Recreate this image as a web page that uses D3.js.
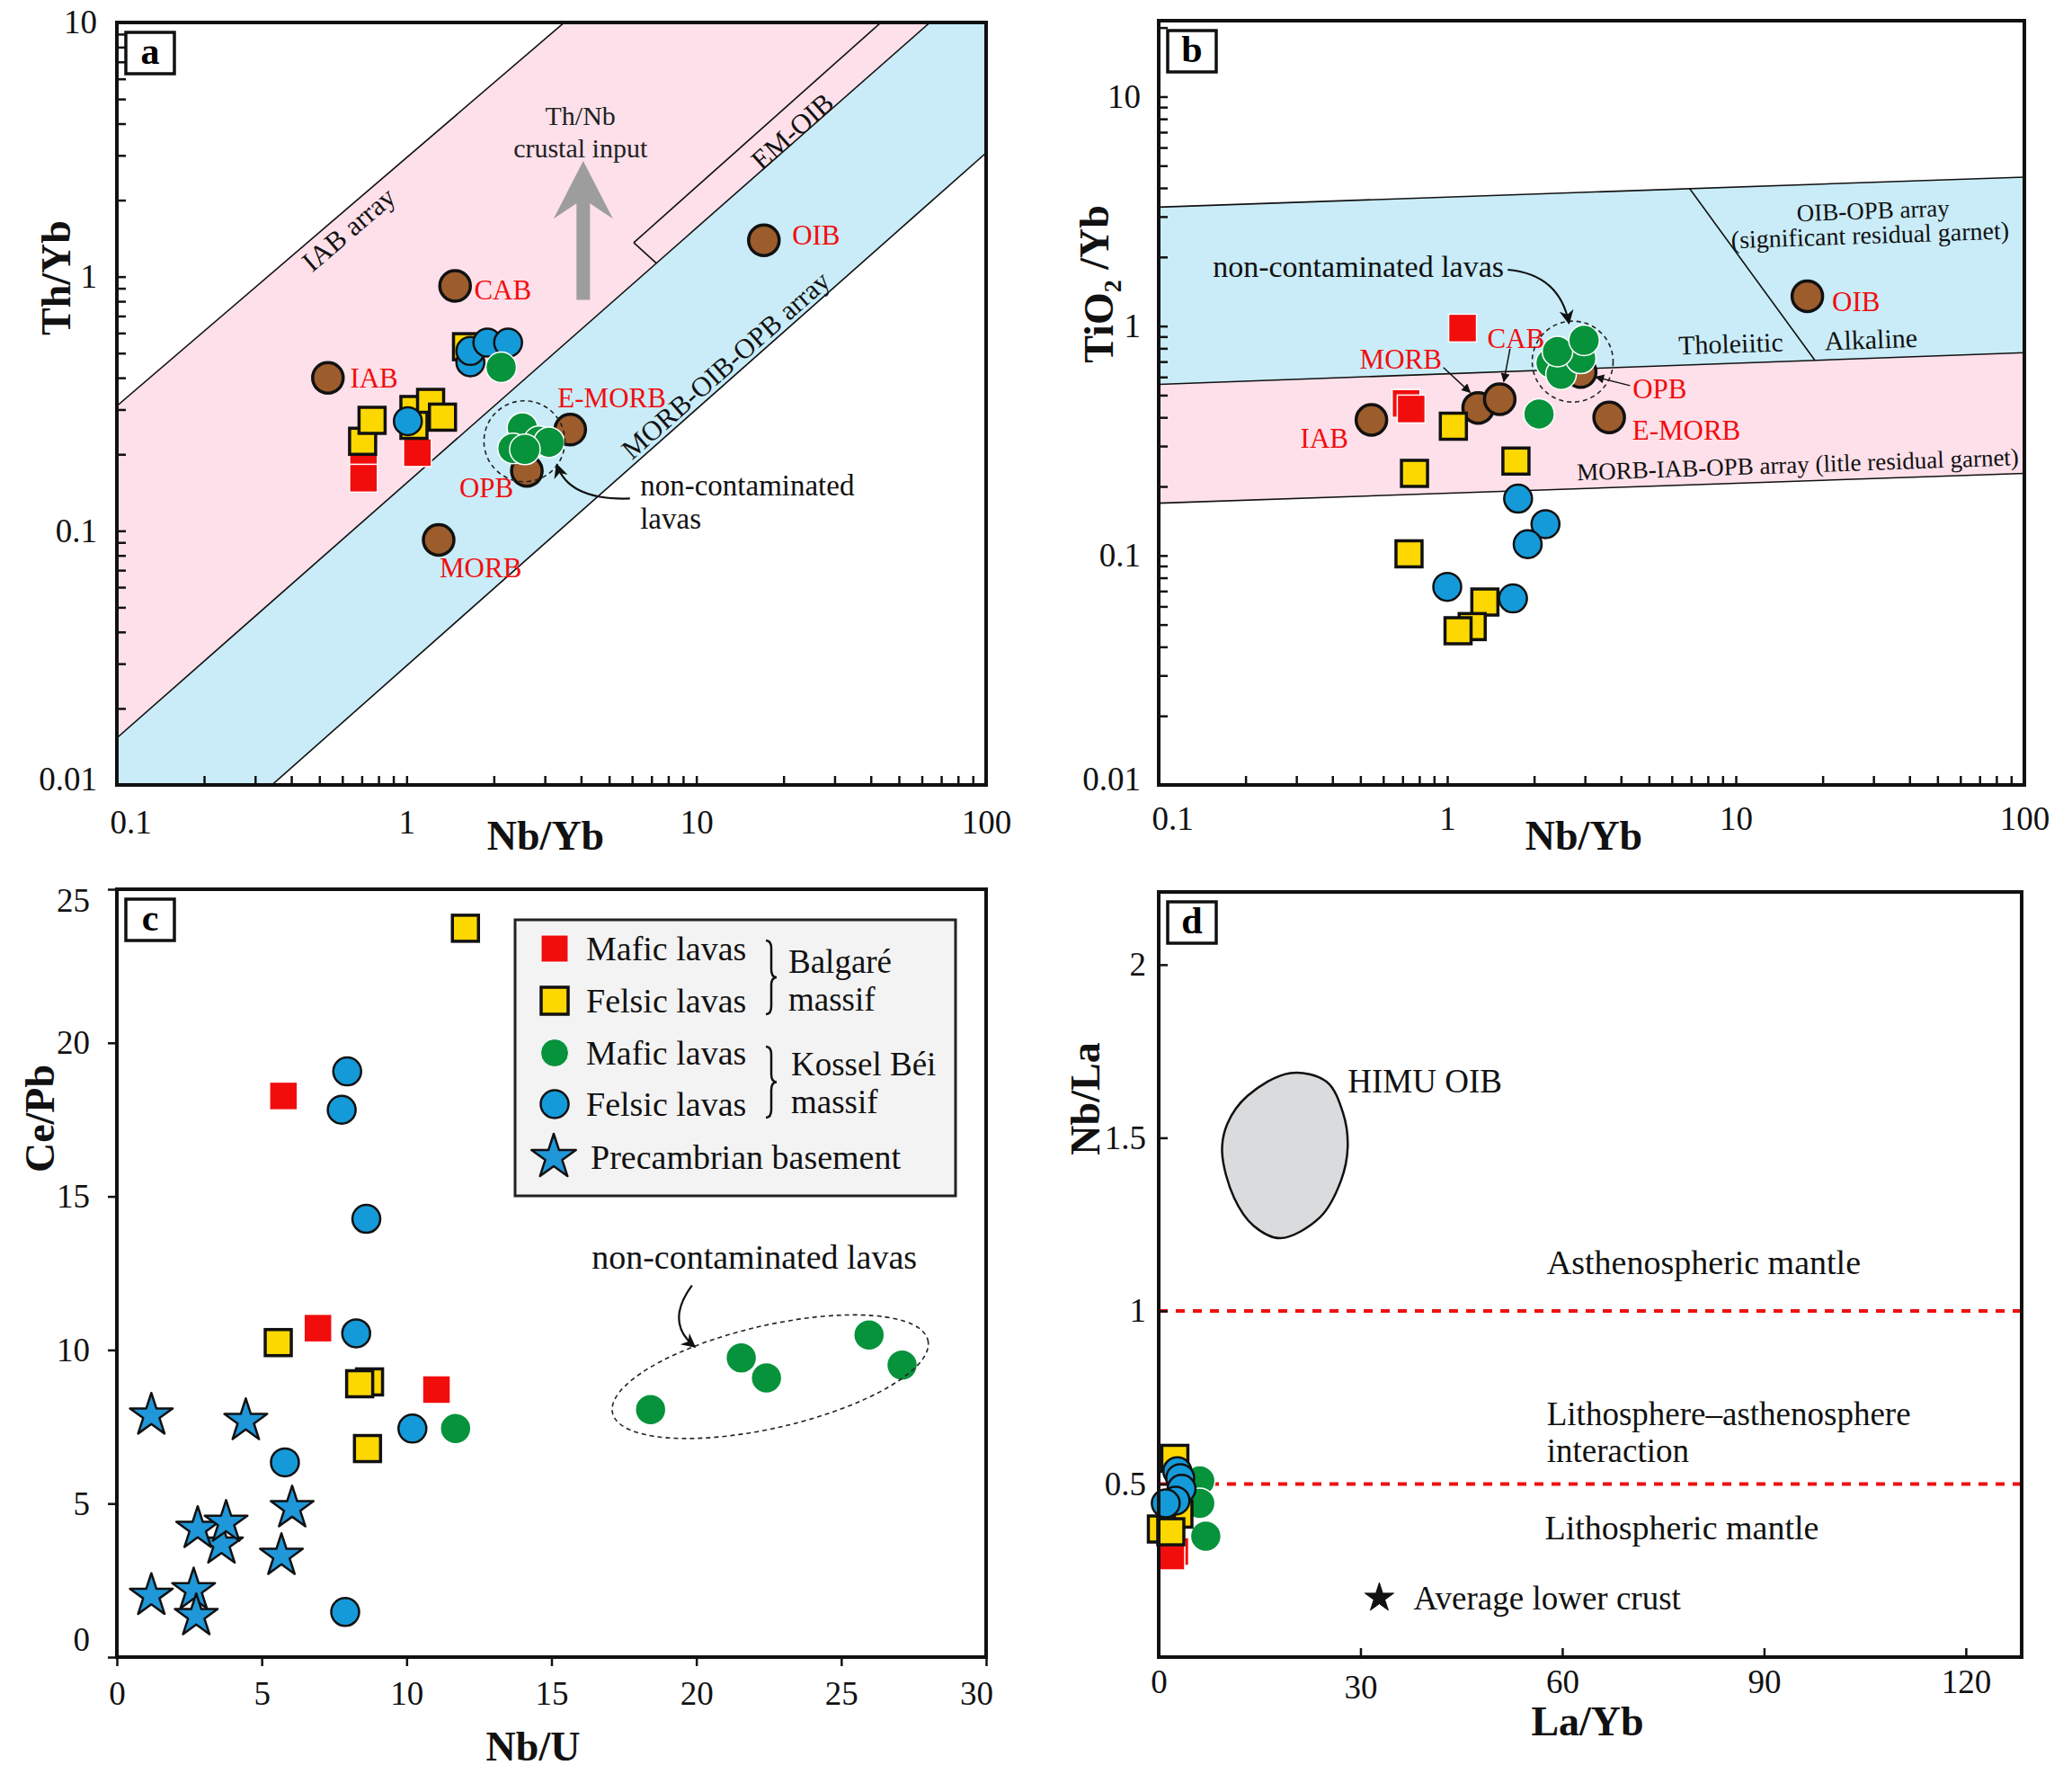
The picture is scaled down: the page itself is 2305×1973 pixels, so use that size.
<!DOCTYPE html>
<html>
<head>
<meta charset="utf-8">
<script src="https://cdn.jsdelivr.net/npm/d3@7"></script>
<style>
  body { margin: 0; background: #fff; }
</style>
</head>
<body>
<script>
// ---------------- data ----------------
// Panel a: Nb/Yb vs Th/Yb
const aMaficBalgare = [[0.71, 0.19], [0.71, 0.161], [1.09, 0.203]];
const aFelsicBalgare = [[0.705, 0.225], [0.76, 0.272], [1.06, 0.30], [1.21, 0.32], [1.33, 0.28], [1.06, 0.26], [1.61, 0.53]];
const aFelsicKossel = [[1.01, 0.27], [1.66, 0.46], [1.66, 0.51], [1.90, 0.55], [2.24, 0.55]];
const aMaficKossel = [[2.12, 0.44], [2.51, 0.254], [2.33, 0.211], [2.86, 0.225], [3.1, 0.223], [2.56, 0.209]];
const aReference = [["IAB", 0.535, 0.40], ["CAB", 1.47, 0.92], ["OIB", 17.1, 1.39], ["E-MORB", 3.67, 0.25], ["OPB", 2.6, 0.172], ["MORB", 1.29, 0.092]];
// array boundaries, two points each (Nb/Yb, Th/Yb)
const aIabUpper = [[0.1, 0.31], [3.5, 10]];
const aMorbUpper = [[0.1, 0.0153], [63, 9.85]];
const aMorbLower = [[0.343, 0.01], [100, 3.07]];
const aEmOib = [[6.08, 1.36], [42.5, 9.8]];
const aEmLink = [[6.08, 1.36], [7.27, 1.13]];

// Panel b: Nb/Yb vs TiO2/Yb
const bMaficBalgare = [[1.13, 0.98], [0.72, 0.46], [0.75, 0.435]];
const bFelsicBalgare = [[1.05, 0.366], [0.77, 0.228], [1.73, 0.258], [0.737, 0.1017], [1.35, 0.0627], [1.22, 0.049], [1.09, 0.047]];
const bFelsicKossel = [[1.76, 0.177], [2.19, 0.137], [1.90, 0.112], [1.0, 0.073], [1.69, 0.065]];
const bMaficKossel = [[2.08, 0.414], [2.29, 0.69], [2.48, 0.617], [2.90, 0.723], [2.41, 0.774], [2.98, 0.867]];
const bReference = [["IAB", 0.546, 0.39], ["MORB", 1.28, 0.44], ["CAB", 1.52, 0.48], ["OPB", 2.9, 0.63], ["E-MORB", 3.64, 0.40], ["OIB", 17.7, 1.35]];
const bOibTop = [[0.1, 3.30], [100, 4.46]];
const bMid = [[0.1, 0.557], [100, 0.766]];
const bMorbBottom = [[0.1, 0.169], [100, 0.228]];
const bDivider = [[6.92, 3.97], [18.8, 0.709]];

// Panel c: Nb/U vs Ce/Pb
const cMaficBalgare = [[5.75, 18.27], [6.94, 10.71], [11.03, 8.71]];
const cFelsicBalgare = [[12.03, 23.73], [5.57, 10.24], [8.72, 8.96], [8.38, 8.9], [8.65, 6.79]];
const cFelsicKossel = [[7.95, 19.07], [7.76, 17.82], [8.61, 14.27], [8.26, 10.54], [10.2, 7.44], [5.8, 6.34], [7.88, 1.47]];
const cMaficKossel = [[11.69, 7.44], [18.42, 8.06], [21.55, 9.74], [22.42, 9.09], [25.96, 10.49], [27.1, 9.51]];
const cBasement = [[1.19, 7.87], [4.45, 7.69], [6.05, 4.85], [3.61, 3.67], [2.79, 4.18], [3.77, 4.38], [5.68, 3.30], [1.19, 2.0], [2.65, 2.18], [2.74, 1.34]];

// Panel d: La/Yb vs Nb/La
const dMaficBalgare = [[2.4, 0.305], [1.8, 0.292]];
const dMaficKossel = [[6.1, 0.509], [6.1, 0.444], [7.0, 0.349]];
const dFelsicBalgare = [[2.4, 0.574], [3.0, 0.413], [0.4, 0.37], [1.8, 0.362]];
const dFelsicKossel = [[2.77, 0.537], [3.2, 0.517], [3.4, 0.486], [2.5, 0.452], [1.05, 0.444]];
const dLowerCrust = [[32.8, 0.171]];
const dHimuOutline = [[19.55, 1.687], [24.95, 1.662], [27.4, 1.572], [28.1, 1.474], [27.1, 1.376], [23.97, 1.27],
  [18.07, 1.21], [14.1, 1.246], [11.2, 1.327], [9.43, 1.458], [10.2, 1.54], [13.2, 1.621]];
const dBoundaries = [1, 0.5];

// tick labels
const cTicksX = [0, 5, 10, 15, 20, 25, 30];
const cTicksY = [0, 5, 10, 15, 20, 25];
const dTicksX = [0, 30, 60, 90, 120];
const dTicksY = [0.5, 1, 1.5, 2];

// ---------------- setup ----------------
const FONT = '"Liberation Serif","Times New Roman",serif';
const COL = {
  red: "#f20d0d", yellow: "#fdd800", blue: "#159ad9", green: "#07923c",
  brown: "#9c5c2c", pink: "#fde0ea", sky: "#c9ecf8", star: "#1f97d9"
};

const svg = d3.select("body").append("svg")
  .attr("width", 2305).attr("height", 1973)
  .style("font-family", FONT);

const defs = svg.append("defs");
defs.append("marker").attr("id", "headBig")
  .attr("viewBox", "0 0 10 10").attr("refX", 9).attr("refY", 5)
  .attr("markerUnits", "userSpaceOnUse").attr("markerWidth", 20).attr("markerHeight", 16)
  .attr("orient", "auto")
  .append("path").attr("d", "M0,0 L10,5 L0,10 L3,5 Z").attr("fill", "#111");
defs.append("marker").attr("id", "headSmall")
  .attr("viewBox", "0 0 10 10").attr("refX", 9).attr("refY", 5)
  .attr("markerUnits", "userSpaceOnUse").attr("markerWidth", 12).attr("markerHeight", 10)
  .attr("orient", "auto")
  .append("path").attr("d", "M0,0 L10,5 L0,10 Z").attr("fill", "#111");

let clipCount = 0;
function makePanel(frame, xLog, xDom, yLog, yDom) {
  const x = (xLog ? d3.scaleLog() : d3.scaleLinear()).domain(xDom).range([frame.left, frame.right]);
  const y = (yLog ? d3.scaleLog() : d3.scaleLinear()).domain(yDom).range([frame.bottom, frame.top]);
  const id = "clip" + (clipCount++);
  defs.append("clipPath").attr("id", id).append("rect")
    .attr("x", frame.left).attr("y", frame.top)
    .attr("width", frame.right - frame.left).attr("height", frame.bottom - frame.top);
  const g = svg.append("g");
  const back = g.append("g").attr("clip-path", `url(#${id})`);
  return { x, y, g, back, frame };
}

function logTicks(lo, hi) {
  const t = [];
  for (let e = Math.floor(Math.log10(lo)); e <= Math.ceil(Math.log10(hi)); e++) {
    for (let m = 1; m < 10; m++) {
      const v = +(m * Math.pow(10, e)).toPrecision(6);
      if (v >= lo * 0.999 && v <= hi * 1.001) t.push(v);
    }
  }
  return t;
}
const isDecade = (v) => Math.abs(Math.log10(v) - Math.round(Math.log10(v))) < 1e-6;

function styleAxis(sel, size) {
  sel.attr("font-size", size).attr("font-family", FONT);
  sel.select(".domain").remove();
  sel.selectAll(".tick line").attr("stroke", "#111").attr("stroke-width", 2.5);
  sel.selectAll(".tick text").attr("fill", "#111");
}

function drawFrame(p, letter) {
  const f = p.frame;
  p.g.append("rect")
    .attr("x", f.left).attr("y", f.top)
    .attr("width", f.right - f.left).attr("height", f.bottom - f.top)
    .attr("fill", "none").attr("stroke", "#111").attr("stroke-width", 4);
  p.g.append("rect")
    .attr("x", f.left + 10).attr("y", f.top + 11).attr("width", 54).attr("height", 46)
    .attr("fill", "#fff").attr("stroke", "#111").attr("stroke-width", 3.5);
  p.g.append("text")
    .attr("x", f.left + 37).attr("y", f.top + 46)
    .attr("text-anchor", "middle").attr("font-size", 42).attr("font-weight", "bold")
    .text(letter);
}

function axisTitle(g, x, y, rotate) {
  const t = g.append("text")
    .attr("transform", `translate(${x},${y})` + (rotate ? " rotate(-90)" : ""))
    .attr("text-anchor", "middle").attr("font-size", 46).attr("font-weight", "bold")
    .attr("fill", "#111");
  if (rotate) t.attr("dy", "0.35em");
  return t;
}

// marks
function squares(p, data, fill, stroke, sw, side) {
  p.g.append("g").selectAll("rect").data(data).join("rect")
    .attr("x", (d) => p.x(d[0]) - side / 2).attr("y", (d) => p.y(d[1]) - side / 2)
    .attr("width", side).attr("height", side)
    .attr("fill", fill).attr("stroke", stroke).attr("stroke-width", sw);
}
function circles(p, data, fill, stroke, sw, r) {
  p.g.append("g").selectAll("circle").data(data).join("circle")
    .attr("cx", (d) => p.x(d[0])).attr("cy", (d) => p.y(d[1])).attr("r", r)
    .attr("fill", fill).attr("stroke", stroke).attr("stroke-width", sw);
}
function stars(p, data, fill, stroke, sw, radius) {
  const sym = d3.symbol().type(d3.symbolStar).size(radius * radius / 0.8908130915292852);
  p.g.append("g").selectAll("path").data(data).join("path")
    .attr("transform", (d) => `translate(${p.x(d[0])},${p.y(d[1])})`)
    .attr("d", sym()).attr("fill", fill).attr("stroke", stroke).attr("stroke-width", sw)
    .attr("stroke-linejoin", "round");
}
const mafBal = (p, d) => squares(p, d, COL.red, "#fff", 1.5, 31);
const felBal = (p, d) => squares(p, d, COL.yellow, "#111", 3.5, 29);
const mafKos = (p, d) => circles(p, d, COL.green, "#fff", 1.5, 17);
const felKos = (p, d) => circles(p, d, COL.blue, "#111", 2.5, 15.5);
const refPts = (p, d) => circles(p, d.map((r) => [r[1], r[2]]), COL.brown, "#111", 3.5, 17);

function text(g, x, y, str, size, opts = {}) {
  const t = g.append("text")
    .attr("x", x).attr("y", y).attr("dy", "0.35em")
    .attr("font-size", size).attr("fill", opts.fill || "#111")
    .attr("text-anchor", opts.anchor || "start")
    .text(str);
  if (opts.rotate !== undefined) {
    t.attr("x", null).attr("y", null)
      .attr("transform", `translate(${x},${y}) rotate(${opts.rotate})`);
  }
  return t;
}

// straight line in log-log space, evaluated anywhere along it
function logLineAt(line, xv) {
  const [[xa, ya], [xb, yb]] = line;
  const s = (Math.log10(yb) - Math.log10(ya)) / (Math.log10(xb) - Math.log10(xa));
  return Math.pow(10, Math.log10(ya) + s * (Math.log10(xv) - Math.log10(xa)));
}
function angleOf(p, line) {
  const [a, b] = line;
  return Math.atan2(p.y(b[1]) - p.y(a[1]), p.x(b[0]) - p.x(a[0])) * 180 / Math.PI;
}
const lineGen = (p) => d3.line().x((d) => p.x(d[0])).y((d) => p.y(d[1]));

// ---------------- panel a ----------------
const pa = makePanel({ left: 130, right: 1097, top: 25, bottom: 873 }, true, [0.1, 100], true, [0.01, 10]);
{
  const lo = 0.01, hi = 1000;
  const poly = (l1, l2) => [[lo, logLineAt(l1, lo)], [hi, logLineAt(l1, hi)], [hi, logLineAt(l2, hi)], [lo, logLineAt(l2, lo)]];
  pa.back.append("path").attr("d", lineGen(pa)(poly(aIabUpper, aMorbUpper)) + "Z").attr("fill", COL.pink);
  pa.back.append("path").attr("d", lineGen(pa)(poly(aMorbUpper, aMorbLower)) + "Z").attr("fill", COL.sky);
  [aIabUpper, aMorbUpper, aMorbLower].forEach((l) => {
    pa.back.append("path").attr("d", lineGen(pa)([[lo, logLineAt(l, lo)], [hi, logLineAt(l, hi)]]))
      .attr("stroke", "#111").attr("stroke-width", 1.6).attr("fill", "none");
  });
  pa.back.append("path").attr("d", lineGen(pa)([aEmOib[0], [hi, logLineAt(aEmOib, hi)]]))
    .attr("stroke", "#111").attr("stroke-width", 1.6).attr("fill", "none");
  pa.back.append("path").attr("d", lineGen(pa)(aEmLink))
    .attr("stroke", "#111").attr("stroke-width", 1.6).attr("fill", "none");

  // axes
  pa.g.append("g").attr("transform", `translate(0,${pa.frame.bottom})`)
    .call(d3.axisBottom(pa.x).tickValues(logTicks(0.1, 100))
      .tickFormat((d) => isDecade(d) ? d3.format("~g")(d) : "")
      .tickSizeInner(-10).tickSizeOuter(0).tickPadding(28))
    .call((s) => styleAxis(s, 37))
    .call((s) => s.selectAll(".tick text").filter((d) => d === 0.1).attr("dx", 15));
  pa.g.append("g").attr("transform", `translate(${pa.frame.left},0)`)
    .call(d3.axisLeft(pa.y).tickValues(logTicks(0.01, 10))
      .tickFormat((d) => isDecade(d) ? d3.format("~g")(d) : "")
      .tickSizeInner(-10).tickSizeOuter(0).tickPadding(22))
    .call((s) => styleAxis(s, 37))
    .call((s) => s.selectAll(".tick text").filter((d) => d === 0.01).attr("dy", "0.15em"));

  // crustal input arrow
  const ax = pa.x(4.07);
  const tip = pa.y(2.85), barb = pa.y(1.69), join = pa.y(1.94), base = pa.y(0.81);
  pa.g.append("path")
    .attr("d", `M${ax},${tip} L${ax + 33},${barb} L${ax + 7.5},${join} L${ax + 7.5},${base} L${ax - 7.5},${base} L${ax - 7.5},${join} L${ax - 33},${barb} Z`)
    .attr("fill", "#9d9d9d");
  text(pa.g, pa.x(3.98), pa.y(4.3), "Th/Nb", 30, { anchor: "middle", fill: "#222" });
  text(pa.g, pa.x(3.98), pa.y(3.2), "crustal input", 30, { anchor: "middle", fill: "#222" });

  // rotated array labels
  text(pa.g, pa.x(0.63), pa.y(1.54), "IAB array", 31, { anchor: "middle", rotate: angleOf(pa, aIabUpper) });
  text(pa.g, pa.x(21.4), pa.y(3.74), "EM-OIB", 31, { anchor: "middle", rotate: angleOf(pa, aEmOib) });
  text(pa.g, pa.x(12.6), pa.y(0.45), "MORB-OIB-OPB array", 31, { anchor: "middle", rotate: angleOf(pa, aMorbLower) });

  // points
  refPts(pa, aReference);
  mafBal(pa, aMaficBalgare);
  felBal(pa, aFelsicBalgare);
  felKos(pa, aFelsicKossel);
  mafKos(pa, aMaficKossel);

  // reference labels
  const aRefLabels = [["IAB", 0.638, 0.40], ["CAB", 1.71, 0.89], ["OIB", 21.4, 1.46], ["E-MORB", 3.32, 0.334], ["OPB", 1.52, 0.148], ["MORB", 1.30, 0.072]];
  aRefLabels.forEach((l) => text(pa.g, pa.x(l[1]), pa.y(l[2]), l[0], 31, { fill: COL.red }));

  // non-contaminated
  pa.g.append("circle").attr("cx", pa.x(2.55)).attr("cy", pa.y(0.225)).attr("r", 45)
    .attr("fill", "none").attr("stroke", "#222").attr("stroke-width", 1.6).attr("stroke-dasharray", "5,4");
  text(pa.g, pa.x(6.4), pa.y(0.151), "non-contaminated", 33);
  text(pa.g, pa.x(6.4), pa.y(0.112), "lavas", 33);
  pa.g.append("path")
    .attr("d", `M${pa.x(5.9)},${pa.y(0.134)} Q${pa.x(3.63)},${pa.y(0.1315)} ${pa.x(3.3)},${pa.y(0.182)}`)
    .attr("fill", "none").attr("stroke", "#111").attr("stroke-width", 2.2).attr("marker-end", "url(#headBig)");

  axisTitle(pa.g, 62, 309, true).text("Th/Yb");
  axisTitle(pa.g, 607, 945, false).text("Nb/Yb");
  drawFrame(pa, "a");
}

// ---------------- panel b ----------------
const pb = makePanel({ left: 1289, right: 2252, top: 23, bottom: 873 }, true, [0.1, 100], true, [0.01, Math.pow(10, 1.331)]);
{
  const band = (l1, l2) => [l1[0], l1[1], l2[1], l2[0]];
  pb.back.append("path").attr("d", lineGen(pb)(band(bOibTop, bMid)) + "Z").attr("fill", COL.sky);
  pb.back.append("path").attr("d", lineGen(pb)(band(bMid, bMorbBottom)) + "Z").attr("fill", COL.pink);
  [bOibTop, bMid, bMorbBottom, bDivider].forEach((l) => {
    pb.back.append("path").attr("d", lineGen(pb)(l))
      .attr("stroke", "#111").attr("stroke-width", 1.6).attr("fill", "none");
  });

  pb.g.append("g").attr("transform", `translate(0,${pb.frame.bottom})`)
    .call(d3.axisBottom(pb.x).tickValues(logTicks(0.1, 100))
      .tickFormat((d) => isDecade(d) ? d3.format("~g")(d) : "")
      .tickSizeInner(-10).tickSizeOuter(0).tickPadding(24))
    .call((s) => styleAxis(s, 37))
    .call((s) => s.selectAll(".tick text").filter((d) => d === 0.1).attr("dx", 15));
  pb.g.append("g").attr("transform", `translate(${pb.frame.left},0)`)
    .call(d3.axisLeft(pb.y).tickValues(logTicks(0.01, 20))
      .tickFormat((d) => isDecade(d) ? d3.format("~g")(d) : "")
      .tickSizeInner(-10).tickSizeOuter(0).tickPadding(20))
    .call((s) => styleAxis(s, 37))
    .call((s) => s.selectAll(".tick text").filter((d) => d === 0.01).attr("dy", "0.15em"));

  const ang = angleOf(pb, bOibTop);
  text(pb.g, pb.x(29.9), pb.y(3.2), "OIB-OPB array", 27, { anchor: "middle", rotate: ang });
  text(pb.g, pb.x(29.2), pb.y(2.5), "(significant residual garnet)", 28, { anchor: "middle", rotate: ang });
  text(pb.g, pb.x(9.6), pb.y(0.84), "Tholeiitic", 30, { anchor: "middle", rotate: ang });
  text(pb.g, pb.x(29.4), pb.y(0.877), "Alkaline", 30, { anchor: "middle", rotate: ang });
  text(pb.g, pb.x(16.4), pb.y(0.25), "MORB-IAB-OPB array (litle residual garnet)", 27, { anchor: "middle", rotate: ang });

  refPts(pb, bReference);
  mafBal(pb, bMaficBalgare);
  felBal(pb, bFelsicBalgare);
  felKos(pb, bFelsicKossel);
  mafKos(pb, bMaficKossel);

  const bRefLabels = [["IAB", 0.375, 0.326], ["MORB", 0.69, 0.72], ["CAB", 1.73, 0.887], ["OPB", 5.45, 0.535], ["E-MORB", 6.74, 0.353], ["OIB", 26.1, 1.28]];
  bRefLabels.forEach((l) => text(pb.g, pb.x(l[1]), pb.y(l[2]), l[0], 31, { fill: COL.red, anchor: "middle" }));

  // pointer arrows
  const bPointers = [[[0.97, 0.66], [1.2, 0.514]], [[1.65, 0.797], [1.57, 0.573]], [[4.3, 0.55], [3.27, 0.6]]];
  bPointers.forEach((a) => {
    pb.g.append("path").attr("d", lineGen(pb)(a))
      .attr("stroke", "#111").attr("stroke-width", 1.5).attr("fill", "none").attr("marker-end", "url(#headSmall)");
  });

  pb.g.append("circle").attr("cx", pb.x(2.72)).attr("cy", pb.y(0.7)).attr("r", 45)
    .attr("fill", "none").attr("stroke", "#222").attr("stroke-width", 1.6).attr("stroke-dasharray", "5,4");
  text(pb.g, pb.x(0.154), pb.y(1.82), "non-contaminated lavas", 34);
  pb.g.append("path")
    .attr("d", `M${pb.x(1.62)},${pb.y(1.76)} Q${pb.x(2.45)},${pb.y(1.68)} ${pb.x(2.64)},${pb.y(1.03)}`)
    .attr("fill", "none").attr("stroke", "#111").attr("stroke-width", 2.2).attr("marker-end", "url(#headBig)");

  const ty = axisTitle(pb.g, 1222, 316, true);
  ty.append("tspan").text("TiO");
  ty.append("tspan").attr("font-size", 28).attr("dy", "0.3em").text("2");
  ty.append("tspan").attr("dy", "-0.3em").text(" /Yb");
  axisTitle(pb.g, 1762, 945, false).text("Nb/Yb");
  drawFrame(pb, "b");
}

// ---------------- panel c ----------------
const pc = makePanel({ left: 130, right: 1097, top: 989, bottom: 1843 }, false, [0, 30], false, [0, 25]);
{
  pc.g.append("g").attr("transform", `translate(0,${pc.frame.bottom})`)
    .call(d3.axisBottom(pc.x).tickValues(cTicksX).tickFormat(d3.format("d"))
      .tickSizeInner(10).tickSizeOuter(0).tickPadding(17))
    .call((s) => styleAxis(s, 37))
    .call((s) => s.selectAll(".tick text").filter((d) => d === 30).attr("dx", -11));
  pc.g.append("g").attr("transform", `translate(${pc.frame.left},0)`)
    .call(d3.axisLeft(pc.y).tickValues(cTicksY).tickFormat(d3.format("d"))
      .tickSizeInner(10).tickSizeOuter(0).tickPadding(20))
    .call((s) => styleAxis(s, 37))
    .call((s) => s.selectAll(".tick text").filter((d) => d === 0).attr("dy", "-0.2em"))
    .call((s) => s.selectAll(".tick text").filter((d) => d === 25).attr("dy", "0.65em"));

  stars(pc, cBasement, COL.star, "#111", 2.5, 25);
  mafBal(pc, cMaficBalgare);
  felBal(pc, cFelsicBalgare);
  felKos(pc, cFelsicKossel);
  mafKos(pc, cMaficKossel);

  // non-contaminated group
  pc.g.append("ellipse")
    .attr("transform", `translate(${pc.x(22.55)},${pc.y(9.13)}) rotate(-13)`)
    .attr("rx", 180).attr("ry", 57)
    .attr("fill", "none").attr("stroke", "#222").attr("stroke-width", 1.6).attr("stroke-dasharray", "5,4");
  text(pc.g, pc.x(22.0), pc.y(13.03), "non-contaminated lavas", 38, { anchor: "middle" });
  pc.g.append("path")
    .attr("d", `M${pc.x(19.85)},${pc.y(12.1)} Q${pc.x(18.9)},${pc.y(10.9)} ${pc.x(19.95)},${pc.y(10.1)}`)
    .attr("fill", "none").attr("stroke", "#111").attr("stroke-width", 2.2).attr("marker-end", "url(#headBig)");

  // legend
  const lg = pc.g.append("g");
  lg.append("rect").attr("x", 573).attr("y", 1023).attr("width", 490).attr("height", 307)
    .attr("fill", "#f3f3f3").attr("stroke", "#222").attr("stroke-width", 3);
  const items = [
    { kind: "sq", fill: COL.red, stroke: "#fff", sw: 1, y: 1055, label: "Mafic lavas" },
    { kind: "sq", fill: COL.yellow, stroke: "#111", sw: 3.5, y: 1113, label: "Felsic lavas" },
    { kind: "ci", fill: COL.green, stroke: "#fff", sw: 1, y: 1171, label: "Mafic lavas" },
    { kind: "ci", fill: COL.blue, stroke: "#111", sw: 2.5, y: 1228, label: "Felsic lavas" },
    { kind: "st", fill: COL.star, stroke: "#111", sw: 2.5, y: 1287, label: "Precambrian basement" }
  ];
  items.forEach((it) => {
    if (it.kind === "sq") {
      lg.append("rect").attr("x", 617 - 15).attr("y", it.y - 15).attr("width", 30).attr("height", 30)
        .attr("fill", it.fill).attr("stroke", it.stroke).attr("stroke-width", it.sw);
    } else if (it.kind === "ci") {
      lg.append("circle").attr("cx", 617).attr("cy", it.y).attr("r", 15.5)
        .attr("fill", it.fill).attr("stroke", it.stroke).attr("stroke-width", it.sw);
    } else {
      lg.append("path").attr("transform", `translate(616,${it.y})`)
        .attr("d", d3.symbol().type(d3.symbolStar).size(26 * 26 / 0.8908130915292852)())
        .attr("fill", it.fill).attr("stroke", it.stroke).attr("stroke-width", it.sw).attr("stroke-linejoin", "round");
    }
    lg.append("text").attr("x", it.kind === "st" ? 657 : 652).attr("y", it.y).attr("dy", "0.33em")
      .attr("font-size", 38).attr("fill", "#111").text(it.label);
  });
  const brace = (x, y0, y1) => {
    const ym = (y0 + y1) / 2, w = 6, d = 9;
    return `M${x},${y0} Q${x + w},${y0} ${x + w},${y0 + d} L${x + w},${ym - d} Q${x + w},${ym} ${x + 2 * w},${ym}` +
      ` Q${x + w},${ym} ${x + w},${ym + d} L${x + w},${y1 - d} Q${x + w},${y1} ${x},${y1}`;
  };
  lg.append("path").attr("d", brace(852, 1046, 1128)).attr("fill", "none").attr("stroke", "#111").attr("stroke-width", 2.5);
  lg.append("path").attr("d", brace(852, 1164, 1243)).attr("fill", "none").attr("stroke", "#111").attr("stroke-width", 2.5);
  lg.append("text").attr("x", 877).attr("y", 1082).attr("font-size", 37).attr("fill", "#111").text("Balgaré");
  lg.append("text").attr("x", 877).attr("y", 1124).attr("font-size", 37).attr("fill", "#111").text("massif");
  lg.append("text").attr("x", 880).attr("y", 1196).attr("font-size", 37).attr("fill", "#111").text("Kossel Béi");
  lg.append("text").attr("x", 880).attr("y", 1238).attr("font-size", 37).attr("fill", "#111").text("massif");

  axisTitle(pc.g, 44, 1244, true).text("Ce/Pb");
  axisTitle(pc.g, 593, 1958, false).text("Nb/U");
  drawFrame(pc, "c");
}

// ---------------- panel d ----------------
const pd = makePanel({ left: 1289, right: 2249, top: 992, bottom: 1843 }, false, [0, 128.3], false, [0, 2.21]);
{
  pd.g.append("g").attr("transform", `translate(0,${pd.frame.bottom})`)
    .call(d3.axisBottom(pd.x).tickValues(dTicksX).tickFormat(d3.format("d"))
      .tickSizeInner(-10).tickSizeOuter(0).tickPadding(14))
    .call((s) => styleAxis(s, 37))
    .call((s) => s.selectAll(".tick text").filter((d) => d === 30).attr("dy", "0.86em"));
  pd.g.append("g").attr("transform", `translate(${pd.frame.left},0)`)
    .call(d3.axisLeft(pd.y).tickValues(dTicksY).tickFormat(d3.format("~g"))
      .tickSizeInner(-10).tickSizeOuter(0).tickPadding(14))
    .call((s) => styleAxis(s, 37));

  pd.back.selectAll("line.bound").data(dBoundaries).join("line")
    .attr("x1", pd.frame.left).attr("x2", pd.frame.right)
    .attr("y1", (d) => pd.y(d)).attr("y2", (d) => pd.y(d))
    .attr("stroke", "#ee1111").attr("stroke-width", 4).attr("stroke-dasharray", "10,9");

  pd.back.append("path")
    .attr("d", d3.line().x((d) => pd.x(d[0])).y((d) => pd.y(d[1])).curve(d3.curveCatmullRomClosed)(dHimuOutline))
    .attr("fill", "#d9dbdd").attr("stroke", "#111").attr("stroke-width", 2.5);

  text(pd.g, pd.x(28.1), pd.y(1.665), "HIMU OIB", 37);
  text(pd.g, pd.x(57.7), pd.y(1.14), "Asthenospheric mantle", 38);
  text(pd.g, pd.x(57.7), pd.y(0.703), "Lithosphere\u2013asthenosphere", 37);
  text(pd.g, pd.x(57.7), pd.y(0.598), "interaction", 37);
  text(pd.g, pd.x(57.4), pd.y(0.375), "Lithospheric mantle", 38);
  text(pd.g, pd.x(37.9), pd.y(0.171), "Average lower crust", 37);
  stars(pd, dLowerCrust, "#111", "#111", 1, 17);

  mafBal(pd, dMaficBalgare);
  mafKos(pd, dMaficKossel);
  felBal(pd, dFelsicBalgare);
  felKos(pd, dFelsicKossel);

  axisTitle(pd.g, 1207, 1222, true).text("Nb/La");
  axisTitle(pd.g, 1766, 1930, false).text("La/Yb");
  drawFrame(pd, "d");
}
</script>
</body>
</html>
